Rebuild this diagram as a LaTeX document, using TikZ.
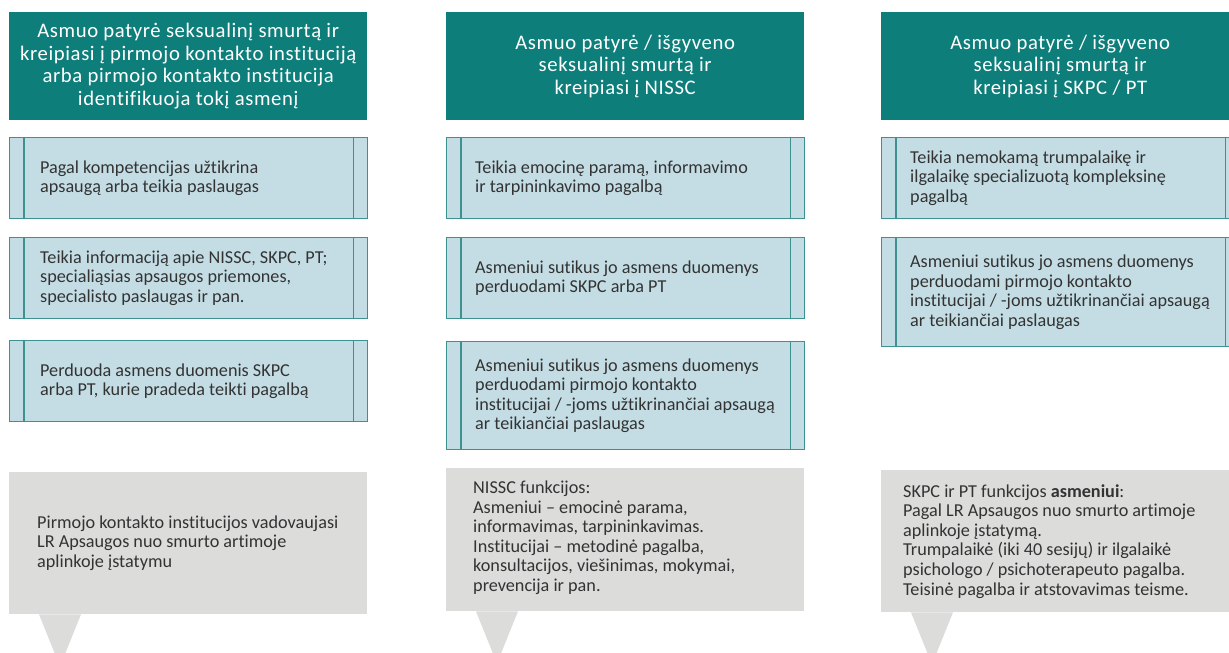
\documentclass[tikz,border=0pt]{standalone}
\usepackage{fontspec}
\setmainfont{Carlito}[Ligatures=NoCommon]
\newfontfamily\headfont{Carlito}[LetterSpace=3,Ligatures=NoCommon]
\usetikzlibrary{positioning}
\definecolor{headteal}{HTML}{0E7E7B}
\definecolor{boxfill}{HTML}{C4DDE5}
\definecolor{boxline}{HTML}{3E9191}
\definecolor{calloutgray}{HTML}{DCDCDB}
\definecolor{textgray}{HTML}{333333}

\begin{document}
\begin{tikzpicture}[x=1pt,y=-1pt,
  head/.style={fill=headteal,text=white,minimum width=358pt,minimum height=108pt,anchor=north west,align=center,inner sep=0pt,font=\headfont\fontsize{20.7}{22.5}\selectfont},
  procbox/.style={draw=boxline,line width=1.4pt,fill=boxfill,minimum width=358pt,anchor=north west,inner sep=0pt},
  callout/.style={fill=calloutgray,minimum width=358pt,anchor=north west,inner sep=0pt},
  boxtext/.style={anchor=west,align=left,inner sep=0pt,text=textgray,font=\fontsize{18.2}{19.6}\selectfont}]
\useasboundingbox (0,0) rectangle (1229,653);
% headers
\node[head] (h1) at (9,12) {Asmuo patyrė seksualinį smurtą ir\\kreipiasi į pirmojo kontakto instituciją\\arba pirmojo kontakto institucija\\identifikuoja tokį asmenį};
\node[head] (h2) at (446,12) {Asmuo patyrė / išgyveno\\seksualinį smurtą ir\\kreipiasi į NISSC};
\node[head] (h3) at (881,12) {Asmuo patyrė / išgyveno\\seksualinį smurtą ir\\kreipiasi į SKPC / PT};
% process boxes
\node[procbox,minimum height=81pt] (p11) at (9,137) {};
\node[procbox,minimum height=81pt] (p12) at (9,237) {};
\node[procbox,minimum height=81pt] (p13) at (9,340) {};
\node[procbox,minimum height=81pt] (p21) at (446,137) {};
\node[procbox,minimum height=81pt] (p22) at (446,237) {};
\node[procbox,minimum height=108pt] (p23) at (446,341) {};
\node[procbox,minimum height=81pt] (p31) at (881,137) {};
\node[procbox,minimum height=109pt] (p32) at (881,237) {};
\foreach \b in {p11,p12,p13,p21,p22,p23,p31,p32}
  \draw[boxline,line width=1.4pt]
    ([xshift=15pt]\b.north west) -- ([xshift=15pt]\b.south west)
    ([xshift=-15pt]\b.north east) -- ([xshift=-15pt]\b.south east);
\node[boxtext,right=31pt of p11.west] (t11) {Pagal kompetencijas užtikrina\\apsaugą arba teikia paslaugas};
\node[boxtext,right=31pt of p12.west] (t12) {Teikia informaciją apie NISSC, SKPC, PT;\\specialiąsias apsaugos priemones,\\specialisto paslaugas ir pan.};
\node[boxtext,right=31pt of p13.west] (t13) {Perduoda asmens duomenis SKPC\\arba PT, kurie pradeda teikti pagalbą};
\node[boxtext,right=29pt of p21.west] (t21) {Teikia emocinę paramą, informavimo\\ir tarpininkavimo pagalbą};
\node[boxtext,right=29pt of p22.west] (t22) {Asmeniui sutikus jo asmens duomenys\\perduodami SKPC arba PT};
\node[boxtext,right=29pt of p23.west] (t23) {Asmeniui sutikus jo asmens duomenys\\perduodami pirmojo kontakto\\institucijai / -joms užtikrinančiai apsaugą\\ar teikiančiai paslaugas};
\node[boxtext,right=29pt of p31.west] (t31) {Teikia nemokamą trumpalaikę ir\\ilgalaikę specializuotą kompleksinę\\pagalbą};
\node[boxtext,right=29pt of p32.west] (t32) {Asmeniui sutikus jo asmens duomenys\\perduodami pirmojo kontakto\\institucijai / -joms užtikrinančiai apsaugą\\ar teikiančiai paslaugas};
% callouts
\node[callout,minimum height=142pt] (c1) at (9,472) {};
\node[callout,minimum height=143pt] (c2) at (446,468) {};
\node[callout,minimum height=142pt] (c3) at (881,470) {};
\foreach \c in {c1,c2,c3}
  \fill[calloutgray] ([xshift=30pt]\c.south west) -- ([xshift=72pt]\c.south west)
    -- ([xshift=51pt,yshift=-52pt]\c.south west) -- cycle;
\node[boxtext,right=28pt of c1.west] (k1) {Pirmojo kontakto institucijos vadovaujasi\\LR Apsaugos nuo smurto artimoje\\aplinkoje įstatymu};
\node[boxtext,right=27pt of c2.west,yshift=2pt] (k2) {NISSC funkcijos:\\Asmeniui – emocinė parama,\\informavimas, tarpininkavimas.\\Institucijai – metodinė pagalba,\\konsultacijos, viešinimas, mokymai,\\prevencija ir pan.};
\node[boxtext,right=22pt of c3.west] (k3) {SKPC ir PT funkcijos \textbf{asmeniui}:\\Pagal LR Apsaugos nuo smurto artimoje\\aplinkoje įstatymą.\\Trumpalaikė (iki 40 sesijų) ir ilgalaikė\\psichologo / psichoterapeuto pagalba.\\Teisinė pagalba ir atstovavimas teisme.};
\end{tikzpicture}
\end{document}
